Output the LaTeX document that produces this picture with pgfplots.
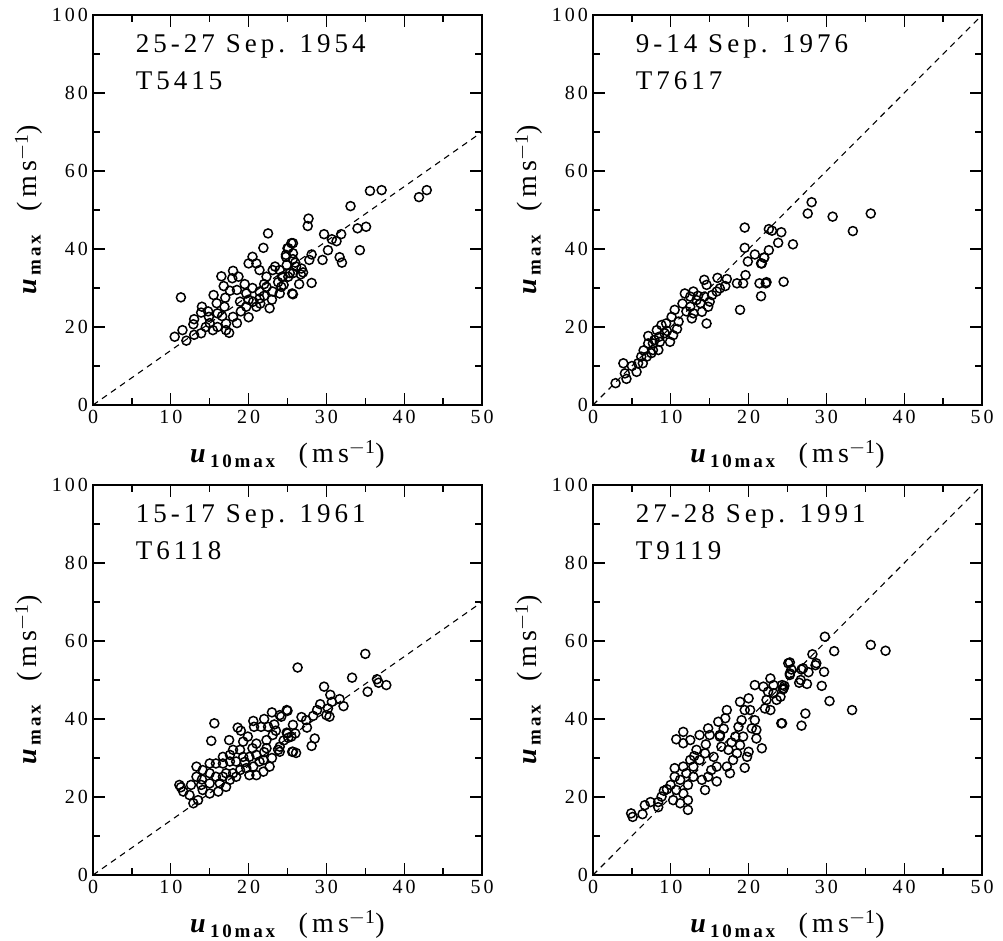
\documentclass[border=0pt]{standalone}
\usepackage{fontspec}
\setmainfont{Liberation Serif}[LetterSpace=15]
\newfontfamily\titlefont{Liberation Serif}[LetterSpace=15]
\usepackage{pgfplots}
\pgfplotsset{compat=1.18}
\pgfplotsset{
  panel/.style={
    scale only axis, width=389pt, height=390pt,
    xmin=0, xmax=50, ymin=0, ymax=100,
    xtick={0,10,...,50}, minor xtick={5,15,...,45},
    ytick={0,20,...,100}, minor ytick={10,30,...,90},
    tick align=inside, major tick length=12pt, minor tick length=7pt,
    tick style={line width=1.3pt, black},
    axis line style={line width=1.5pt},
    every axis/.append style={line width=1.5pt},
    /pgf/number format/assume math mode=true,
    ticklabel style={font=\fontsize{20}{22}\selectfont},
    xticklabel style={yshift=-1pt},
    yticklabel style={xshift=-1pt},
    xlabel={\fontsize{28}{30}\selectfont\textbf{\textit{u}}\textsubscript{\textbf{\fontsize{19}{20}\selectfont 10max}}\hspace{20pt}(ms\textsuperscript{$-$1})},
    ylabel={\fontsize{28}{30}\selectfont\textbf{\textit{u}}\textsubscript{\textbf{\fontsize{19}{20}\selectfont max}}\hspace{20pt}(ms\textsuperscript{$-$1})},
    xlabel style={at={(axis description cs:0.5,-0.128)}, anchor=center},
    ylabel style={at={(axis description cs:-0.165,0.5)}, anchor=center},
    clip=false,
  },
  pts/.style={only marks, mark=o, mark size=4.5pt, mark options={line width=1.5pt, black}},
  diag/.style={black, dashed, line width=1.1pt, dash pattern=on 6pt off 5pt, no marks},
}
\newcommand{\paneltitle}[2]{\node[anchor=north west, inner sep=0pt, align=left, font=\titlefont\fontsize{27}{37}\selectfont] at (rel axis cs:0.108,0.952) {#1\\#2};}
\begin{document}
\begin{tikzpicture}
\useasboundingbox (0pt,0pt) rectangle (1003pt,-940pt);
% ---------- top left
\begin{axis}[panel, at={(93pt,-15pt)}, anchor=north west]
\addplot[diag] coordinates {(0,0) (50,70)};
\addplot[pts] coordinates {
(42.9,55.1)(41.9,53.3)(37.1,55.1)(35.6,54.9)(33.1,51.0)(35.1,45.7)(34.0,45.3)(34.3,39.7)(31.9,43.8)(31.3,42.0)(30.7,42.5)(29.7,43.8)(30.2,39.7)(31.7,37.9)(32.0,36.5)(29.5,37.2)(28.1,38.6)(27.8,37.2)(27.7,47.8)(27.6,45.9)(28.1,31.3)(25.7,28.4)(25.7,41.5)(25.0,40.2)(25.7,38.9)(25.7,37.4)(24.8,38.5)(24.9,35.9)(26.1,35.5)(26.8,35.0)(26.7,33.5)(25.7,33.8)(25.1,32.9)(24.5,30.8)(24.3,32.9)(24.0,28.6)
(22.5,44.0)(21.9,40.3)(11.3,27.6)(20.5,38.0)(21.0,36.3)(20.0,36.3)(18.0,34.4)(18.7,32.9)(17.9,32.5)(16.8,30.5)(17.6,29.3)(15.5,28.2)(15.9,26.1)(14.0,25.2)(13.9,23.7)(14.9,22.6)(12.9,20.7)(11.5,19.2)(10.5,17.5)(13.9,18.4)(15.4,19.2)(17.1,19.2)(17.1,20.9)(16.6,22.8)(18.0,22.6)(16.9,25.2)(18.9,26.5)(19.7,25.2)(20.6,26.5)(21.4,27.3)(21.0,25.2)(19.7,28.6)(21.4,29.1)(22.3,30.3)(23.1,29.1)(22.3,32.9)(23.1,34.6)(24.0,34.6)(24.8,38.0)(25.1,40.2)(25.5,41.5)(24.4,32.9)(25.3,33.8)(24.2,30.3)(22.7,24.8)(25.6,28.6)(23.4,35.5)(21.4,34.6)
(12,16.5)(13,18)(14.5,20)(15,21)(16,20)(17.5,18.5)(14.8,24)(13,22)(16,23.5)(18.5,21)(19,24)(20,27)(22,28)(23,27)(20.5,30)(19.5,31)(17,27.5)(16.5,33)(18.5,29.5)(22,31)(23.8,31.5)(26,36.5)(27,34)(26.5,31)(20,22.5)(21.5,26)
};
\paneltitle{25-27 Sep. 1954}{T5415}
\end{axis}
% ---------- top right
\begin{axis}[panel, at={(593pt,-15pt)}, anchor=north west]
\addplot[diag] coordinates {(0,0) (50,100)};
\addplot[pts] coordinates {
(19.5,45.5)(19.5,40.3)(22.6,45.1)(22.6,39.7)(20.8,38.6)(19.9,36.8)(21.6,36.3)(22.0,37.8)(19.6,33.3)(18.5,31.2)(19.3,31.2)(21.4,31.2)(22.2,31.2)(21.6,27.9)(18.9,24.4)(17.2,32.3)(16.0,32.6)(16.3,29.9)(15.9,29.1)(15.3,28.2)(14.3,32.1)(14.6,30.8)(14.3,27.8)(14.8,25.2)(14.6,20.9)(14.0,23.9)(12.9,29.1)(12.5,27.8)(11.8,28.6)(13.3,26.9)(12.5,25.2)(12.7,22.2)(12.9,23.5)(13.8,26.1)(10.5,24.4)(10.1,22.6)(11.0,21.4)(9.4,20.9)(10.3,17.9)(9.9,16.2)(9.2,18.4)(8.8,20.5)(8.2,19.2)(7.9,16.7)(7.1,17.7)(7.1,15.8)(7.7,15.8)(8.6,16.2)(8.4,14.1)(7.7,14.1)(7.5,13.3)(6.9,12.4)(6.2,12.4)(5.8,10.7)(6.4,10.7)(5.6,8.5)(3.9,10.7)(4.1,8.1)(4.3,6.7)(2.9,5.6)
(28.1,52.0)(27.6,49.1)(30.8,48.3)(35.7,49.1)(33.4,44.6)(25.7,41.2)(23.8,41.6)(24.2,44.3)(23.0,44.7)(22.0,37.8)(21.7,36.3)(22.3,31.5)(24.5,31.6)
(11.5,26)(12,24)(9.5,19)(8.5,17.5)(10.8,19.5)(13.5,28)(15,26.5)(17,30.5)(6.5,14)(5,10)
};
\paneltitle{9-14 Sep. 1976}{T7617}
\end{axis}
% ---------- bottom left
\begin{axis}[panel, at={(93pt,-485pt)}, anchor=north west]
\addplot[diag] coordinates {(0,0) (50,70)};
\addplot[pts] coordinates {
(15.6,38.9)(15.2,34.4)(18.6,37.8)(17.5,34.6)(23.0,41.7)(25.0,42.1)(24.2,40.6)(20.6,39.5)(20.7,38.0)(21.6,38.0)(22.5,38.0)(23.3,38.6)(19.9,35.5)(19.3,34.2)(21.0,33.7)(22.3,34.6)(23.1,35.9)(22.3,32.5)
(18.0,32.1)(18.9,32.1)(17.6,30.8)(16.7,30.3)(17.6,29.1)(18.4,29.1)(19.3,30.3)(20.1,30.3)(21.0,30.8)(21.4,29.1)(20.6,27.8)(19.7,27.4)(18.9,26.9)(18.0,26.1)(17.1,26.1)(16.7,28.6)(15.8,28.6)(15.0,28.6)(14.1,26.9)(13.3,27.8)(15.0,26.1)(15.8,25.2)(16.7,25.2)(17.6,24.4)(18.4,25.2)(20.1,25.6)(21.0,25.6)(21.9,26.5)(21.9,29.5)(22.7,27.8)(23.8,32.1)(24.0,32.9)(25.0,36.3)(25.6,31.6)
(13.3,25.2)(12.6,23.1)(13.9,23.1)(15.0,23.5)(16.3,23.5)(11.1,23.1)(11.6,21.4)(12.4,20.5)(13.5,19.2)(12.9,18.4)(14.1,21.8)(15.0,20.9)(16.1,21.4)(17.1,22.6)
(35.0,56.7)(26.3,53.2)(33.3,50.6)(36.5,50.2)(36.7,49.3)(37.7,48.7)(35.3,47.0)(29.7,48.3)(30.5,46.2)(31.7,45.1)(32.2,43.3)(30.7,44.4)(30.2,42.7)(29.2,43.8)(28.8,42.3)(30.0,41.0)(30.4,40.6)(28.3,40.8)(27.4,39.7)(27.5,37.8)(25.7,38.5)(24.9,36.5)(25.1,35.2)(26.0,36.3)(25.5,35.5)(24.0,41.0)(24.9,42.3)(28.5,35.0)(28.1,33.1)(25.7,31.6)(26.1,31.3)(24.0,31.6)
(11.3,22.5)(14,24.5)(19.5,29)(20.5,32.5)(22,31.5)(23,30)(24.5,34.5)(23.5,37)(22,40)(19,37)(26.8,40.5)
};
\paneltitle{15-17 Sep. 1961}{T6118}
\end{axis}
% ---------- bottom right
\begin{axis}[panel, at={(593pt,-485pt)}, anchor=north west]
\addplot[diag] coordinates {(0,0) (50,100)};
\addplot[pts] coordinates {
(4.9,15.8)(5.1,14.9)(6.36,15.6)(6.66,17.9)(7.39,18.7)(8.38,18.7)(8.38,17.4)(8.81,20.1)(9.11,21.6)(9.97,23.1)(10.3,19.2)(11.2,18.4)(12.2,19.2)(12.2,16.7)(10.7,21.8)(11.6,20.9)(10.5,27.4)(11.6,27.8)(12.0,26.1)(11.2,24.4)(10.5,25.2)(12.2,23.1)(12.9,25.2)(12.9,27.8)(12.5,29.5)(13.3,32.1)(13.7,29.5)(14.4,31.2)(14.0,24.4)(14.4,21.8)(14.8,25.2)(15.2,26.9)(15.5,30.3)(15.9,27.8)(15.9,24.0)(13.7,35.9)(14.8,37.6)(15.0,35.9)(11.6,36.7)(10.7,34.8)(11.6,33.8)(12.5,34.6)(16.3,35.5)(16.1,39.3)(17.0,40.2)(17.2,42.3)(16.3,35.9)(16.5,32.9)(17.4,32.1)(17.2,27.8)(17.6,26.1)(18.0,29.5)(18.5,31.2)(18.9,33.3)(18.3,35.5)(19.3,35.5)(19.8,30.3)(20.0,31.6)(18.7,38.0)(19.1,39.7)(19.5,42.3)(18.9,44.4)(20.0,45.3)(20.2,42.3)(20.8,39.7)(20.4,37.6)(21.0,37.2)(21.7,32.5)(22.1,42.7)(22.8,42.3)(22.3,44.9)(23.6,44.9)(23.2,46.6)(22.8,50.4)(23.2,48.7)(24.5,47.9)(24.3,48.7)(20.8,48.7)(21.9,48.3)(24.2,38.9)(25.1,54.3)(25.3,51.7)
(29.8,61.1)(35.7,59.0)(37.6,57.5)(31.0,57.4)(28.2,56.6)(25.3,54.5)(25.5,52.7)(25.3,51.3)(26.8,52.7)(27.0,53.0)(27.7,52.0)(28.7,54.3)(28.6,53.8)(29.7,52.1)(26.7,50.0)(26.5,49.3)(27.5,49.0)(29.4,48.5)(24.6,48.5)(24.4,47.6)(24.1,45.7)(30.4,44.6)(33.3,42.3)(27.3,41.4)(26.8,38.3)(24.3,38.9)
(9.5,22)(13,30.5)(14.5,33.5)(16.8,37.5)(17.8,34)(19.5,27.5)(21,35)(22.5,47)
};
\paneltitle{27-28 Sep. 1991}{T9119}
\end{axis}
\end{tikzpicture}
\end{document}
